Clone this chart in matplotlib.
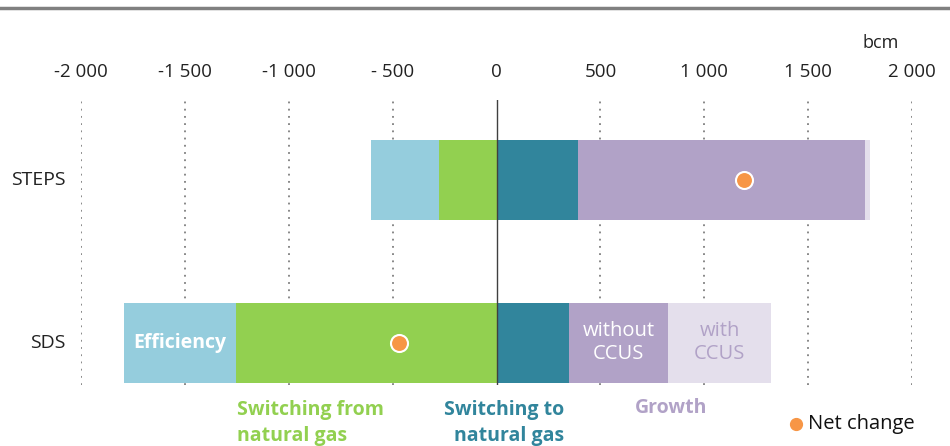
import matplotlib.pyplot as plt
from matplotlib.lines import Line2D

# ============ Data (bcm) ============
scenarios = ["STEPS", "SDS"]
efficiency = [-327, -538]          # segment length, left of switching-from
switching_from = [-279, -1255]
switching_to = [394, 351]
growth_without = [1380, 476]
growth_with = [24, 495]
net_change = [1192, -471]
tick_values = [-2000, -1500, -1000, -500, 0, 500, 1000, 1500, 2000]
tick_labels = ["-2 000", "-1 500", "-1 000", "- 500", "0", "500", "1 000", "1 500", "2 000"]

c_eff = "#95CDDD"
c_from = "#92D050"
c_to = "#31859C"
c_grow = "#B1A2C7"
c_ccus = "#E4DFEC"
c_net = "#F79646"

plt.rcParams['font.family'] = ['Open Sans', 'DejaVu Sans']

W, H = 950, 446
fig = plt.figure(figsize=(W / 100, H / 100), dpi=100)
# axes spans x = -2000 .. 2000 between pixels 81 and 912, y pixels 100 .. 385
ax = fig.add_axes([81 / W, 1 - 385 / H, (912 - 81) / W, (385 - 100) / H])
ax.set_xlim(-2000, 2000)
ax.set_ylim(1.258, -0.49)

ypos = [0, 1]
bh = 0.49
for i, y in enumerate(ypos):
    left_from = switching_from[i]
    ax.barh(y, switching_from[i], left=0, height=bh, color=c_from, zorder=2)
    ax.barh(y, efficiency[i], left=left_from, height=bh, color=c_eff, zorder=2)
    ax.barh(y, switching_to[i], left=0, height=bh, color=c_to, zorder=2)
    ax.barh(y, growth_without[i], left=switching_to[i], height=bh, color=c_grow, zorder=2)
    ax.barh(y, growth_with[i], left=switching_to[i] + growth_without[i], height=bh,
            color=c_ccus, zorder=2)
    ax.scatter(net_change[i], y, s=150, color=c_net, edgecolor="white", linewidth=1.5, zorder=4)

# grid and zero line
for v in tick_values:
    if v == 0:
        ax.axvline(0, color="#404040", lw=1.0, zorder=3)
    else:
        ax.axvline(v, color="#7f7f7f", lw=1.3, ls=(0, (1, 3)), zorder=1)

ax.set_xticks(tick_values)
ax.set_xticklabels(tick_labels, fontsize=13.5, color="#222222")
ax.xaxis.tick_top()
ax.tick_params(axis="x", length=0, pad=14)
ax.set_yticks([])
for s in ax.spines.values():
    s.set_visible(False)
ax.patch.set_alpha(0)

# category labels
for y, name in zip(ypos, scenarios):
    ax.text(-2075, y, name, ha="right", va="center", fontsize=14, color="#222222")

ax.text(1850, -0.84, "bcm", ha="center", va="center", fontsize=13, color="#222222",
        clip_on=False)

# labels inside bars
sds = 1
ax.text(switching_from[sds] + efficiency[sds] / 2, sds, "Efficiency", ha="center", va="center",
        fontsize=14, fontweight="bold", color="white")
ax.text(switching_to[sds] + growth_without[sds] / 2, sds, "without\nCCUS", ha="center",
        va="center", fontsize=14.5, color="white", linespacing=1.2)
ax.text(switching_to[sds] + growth_without[sds] + growth_with[sds] / 2, sds, "with\nCCUS",
        ha="center", va="center", fontsize=14.5, color=c_grow, linespacing=1.2)

# category legend below
fig.text(237 / W, 1 - 423 / H, "Switching from\nnatural gas", ha="left", va="center",
         fontsize=14, fontweight="bold", color=c_from, linespacing=1.35)
fig.text(564 / W, 1 - 423 / H, "Switching to\nnatural gas", ha="right", va="center",
         fontsize=14, fontweight="bold", color=c_to, linespacing=1.35, multialignment="right")
fig.text(635 / W, 1 - 408 / H, "Growth", ha="left", va="center",
         fontsize=14, fontweight="bold", color=c_grow)
fig.add_artist(Line2D([796 / W], [1 - 424 / H], marker="o", markersize=8.5, color=c_net,
                      linestyle="none"))
fig.text(808 / W, 1 - 424 / H, "Net change", ha="left", va="center", fontsize=14.5,
         color="#111111")

# top rule
fig.add_artist(Line2D([0, 1], [1 - 8 / H, 1 - 8 / H], color="#808080", lw=2.5))

fig.savefig("out.png", dpi=100)
